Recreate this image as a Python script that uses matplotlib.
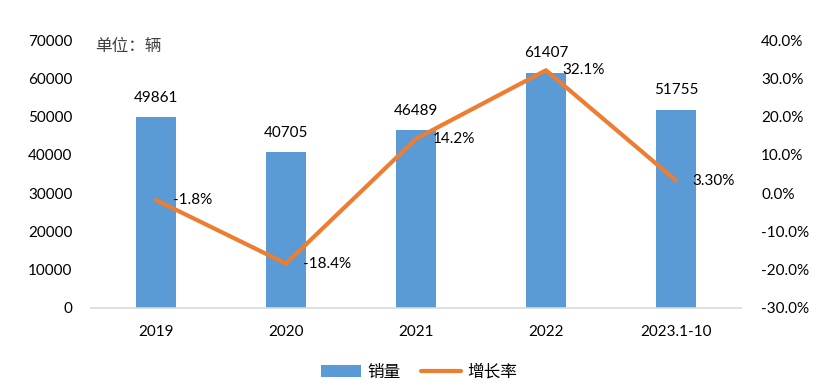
import matplotlib
matplotlib.use("Agg")
import matplotlib.pyplot as plt
from matplotlib.ticker import FuncFormatter

plt.rcParams['font.family'] = ['Lato', 'Noto Sans CJK SC', 'DejaVu Sans']

categories = ["2019", "2020", "2021", "2022", "2023.1-10"]
sales = [49861, 40705, 46489, 61407, 51755]
growth = [-1.8, -18.4, 14.2, 32.1, 3.3]
growth_labels = ["-1.8%", "-18.4%", "14.2%", "32.1%", "3.30%"]

fig = plt.figure(figsize=(8.38, 3.9), dpi=100)
ax = fig.add_axes([0.1086, 0.2103, 0.7756, 0.6871])
ax2 = ax.twinx()

x = list(range(len(categories)))
bars = ax.bar(x, sales, width=0.31, color="#5B9BD5", label="销量", zorder=2)
ax.set_xlim(-0.5, len(categories) - 0.5)
ax.set_ylim(0, 70000)
ax.set_yticks(range(0, 70001, 10000))
ax.set_xticks(x)
ax.set_xticklabels(categories)

line, = ax2.plot(x, growth, color="#ED7D31", linewidth=3.0, solid_capstyle="round",
                 label="增长率", zorder=3)
ax2.set_ylim(-30, 40)
ax2.set_yticks(range(-30, 41, 10))
ax2.yaxis.set_major_formatter(FuncFormatter(lambda v, p: f"{v:.1f}%"))

for a in (ax, ax2):
    for s in a.spines.values():
        s.set_visible(False)
    a.tick_params(length=0, labelsize=11, colors="black")
ax.spines['bottom'].set_visible(True)
ax.spines['bottom'].set_color("#D9D9D9")
ax.spines['bottom'].set_linewidth(1.2)
ax.tick_params(axis='y', pad=13.5)
ax.tick_params(axis='x', pad=12)
ax2.tick_params(axis='y', pad=14.5)

for xi, v in zip(x, sales):
    ax.annotate(str(v), (xi, v), xytext=(0, 9), textcoords="offset points",
                ha="center", va="bottom", fontsize=11)
for xi, v, t in zip(x, growth, growth_labels):
    ax2.annotate(t, (xi, v), xytext=(12, 0), textcoords="offset points",
                 ha="left", va="center", fontsize=11)

fig.text(95 / 838, 1 - 47 / 390, "单位：辆", fontsize=12, va="center", ha="left",
         color="#404040", family=['Noto Sans CJK SC', 'DejaVu Sans'])

fig.legend(handles=[bars, line], labels=["销量", "增长率"], loc="center",
           bbox_to_anchor=(0.5, 1 - 372 / 390), ncol=2, frameon=False,
           prop={'family': ['Noto Sans CJK SC', 'DejaVu Sans'], 'size': 12},
           handlelength=2.4, columnspacing=1.2, handletextpad=0.4)

fig.savefig("out.png", dpi=100)
